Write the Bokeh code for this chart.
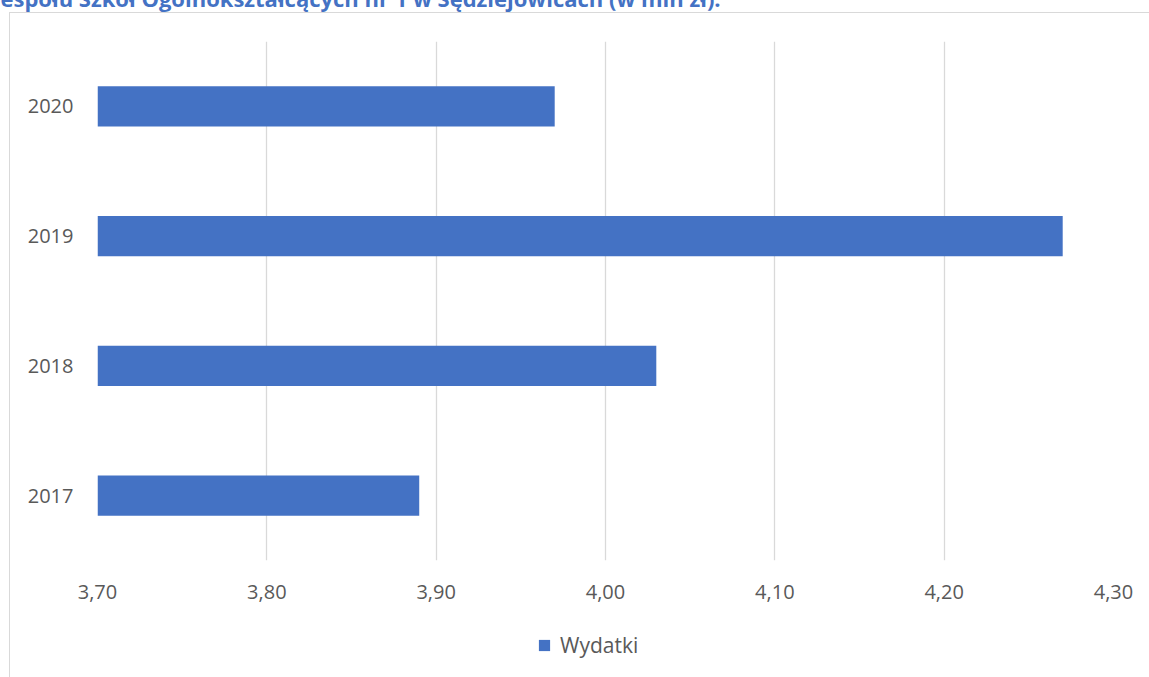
from bokeh.plotting import figure
from bokeh.layouts import column
from bokeh.models import (FactorRange, Range1d, FixedTicker, CustomJSTickFormatter,
                          Legend, LegendItem)
from bokeh.embed import file_html
from bokeh.resources import INLINE

# ---- data ----
years = ["2017", "2018", "2019", "2020"]
wydatki = [3.89, 4.03, 4.27, 3.97]
x_ticks = [3.70, 3.80, 3.90, 4.00, 4.10, 4.20, 4.30]
series_name = "Wydatki"
title_text = "espołu Szkół Ogólnokształcących nr 1 w Sędziejowicach (w mln zł)."

BAR_COLOR = "#4472C4"
TEXT_COLOR = "#595959"
D = 60                      # part of the canvas hidden above the page top
W = 1149
FL, FR, FT, FB = 97, 1113, 41, 560
LEG_TOP = 620               # top of the legend strip
H1 = LEG_TOP + D
H2 = 677 - LEG_TOP

# ---------------- main chart ----------------
p1 = figure(width=W, height=H1, output_backend="svg", toolbar_location=None,
            y_range=FactorRange(factors=years, range_padding=0),
            x_range=Range1d(x_ticks[0], x_ticks[-1]),
            min_border_left=FL, min_border_right=W - FR,
            min_border_top=FT + D, min_border_bottom=LEG_TOP - FB)
p1.outline_line_color = None
p1.background_fill_color = "white"
p1.border_fill_color = None

# title (only its lower part is visible in the original)
p1.title.text = title_text
p1.title.align = "left"
p1.title.vertical_align = "bottom"
p1.title.offset = -FL
p1.title.standoff = 58
p1.title.text_font = "Open Sans"
p1.title.text_font_style = "bold"
p1.title.text_font_size = "22px"
p1.title.text_color = BAR_COLOR

bars = p1.hbar(y=years, right=wydatki, left=x_ticks[0], height=0.31,
               fill_color=BAR_COLOR, line_color=None)

p1.xaxis.ticker = FixedTicker(ticks=x_ticks)
p1.xaxis.formatter = CustomJSTickFormatter(code="return tick.toFixed(2).replace('.', ',');")
for ax in (p1.xaxis[0], p1.yaxis[0]):
    ax.axis_line_color = None
    ax.major_tick_line_color = None
    ax.minor_tick_line_color = None
    ax.major_tick_out = 0
    ax.major_tick_in = 0
    ax.minor_tick_out = 0
    ax.major_label_text_font = "Open Sans"
    ax.major_label_text_font_size = "20px"
    ax.major_label_text_color = TEXT_COLOR
p1.xaxis.major_label_standoff = 24
p1.yaxis.major_label_standoff = 24

p1.xgrid.grid_line_color = "#D9D9D9"
p1.xgrid.grid_line_width = 1.3
p1.xgrid.ticker = FixedTicker(ticks=x_ticks)
p1.ygrid.grid_line_color = None

# ---------------- legend strip ----------------
p2 = figure(width=W, height=H2, output_backend="svg", toolbar_location=None,
            x_axis_location=None, y_axis_location=None,
            y_range=FactorRange(factors=years), x_range=Range1d(x_ticks[0], x_ticks[-1]),
            min_border_left=0, min_border_right=0, min_border_top=0, min_border_bottom=0)
p2.outline_line_color = None
p2.background_fill_color = None
p2.border_fill_color = None
p2.grid.grid_line_color = None
legend_bars = p2.hbar(y=years, right=wydatki, left=x_ticks[0], height=0.31,
                      fill_color=BAR_COLOR, line_color=None, visible=False)
legend = Legend(items=[LegendItem(label=series_name, renderers=[legend_bars])],
                location=(440, 18), orientation="horizontal",
                padding=0, margin=0, spacing=0,
                glyph_width=14, glyph_height=14, label_standoff=9,
                label_text_font="Open Sans", label_text_font_size="21px",
                label_text_color=TEXT_COLOR,
                border_line_color=None, background_fill_alpha=0)
p2.add_layout(legend, "center")

p = column(p1, p2, spacing=0)
p.styles = {
    "margin-top": f"-{D}px",
    "background-image": "linear-gradient(#D9D9D9, #D9D9D9), linear-gradient(#D9D9D9, #D9D9D9)",
    "background-position": f"9px {12 + D}px, 9px {12 + D}px",
    "background-size": "1px 100%, 100% 1px",
    "background-repeat": "no-repeat",
}

open("out.html", "w").write(file_html(p, INLINE))
